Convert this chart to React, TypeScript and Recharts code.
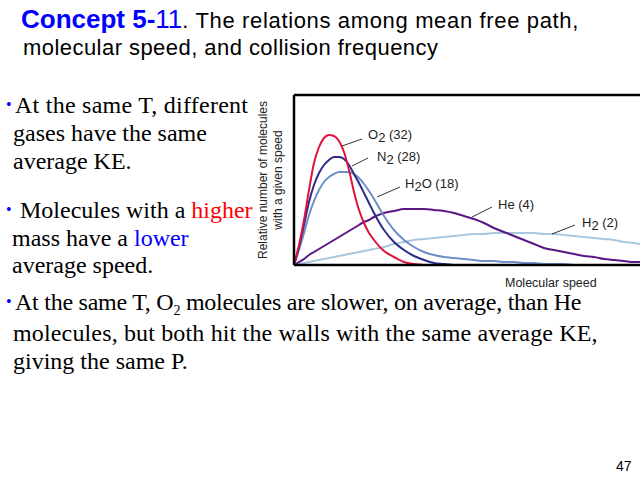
import React from 'react';
import { LineChart, Line, XAxis, YAxis, ReferenceLine, ReferenceDot } from 'recharts';

// speed axis (arbitrary units, left edge of the plot = 0)
const speeds = [0, 5, 10, 15, 20, 25, 30, 35, 40, 45, 50, 55, 60, 65, 70, 75, 80, 90, 100, 110, 120, 130, 140, 150, 160, 170, 180, 190, 200, 210, 220, 230, 240, 250, 260, 270, 280, 290, 300, 310, 320, 330, 340, 346];

// relative number of molecules
const o2 = [0, 20, 45, 75, 102, 118, 127, 130, 129, 124, 113, 95, 73, 55, 42, 32, 25, 14, 8, 3, 1, 0];
const n2 = [0, 18, 40, 63, 80, 92, 100, 105, 108, 108, 106, 100, 91, 82, 72, 62, 52, 35, 23, 15, 9, 5, 2, 1, 0];
const h2o = [0, 15, 32, 50, 64, 75, 83, 88, 91, 93, 93, 93, 91, 87, 81, 74, 66, 49, 35, 25, 18, 13, 10, 8, 7, 6, 5, 4, 4, 3, 3, 2, 2, 1, 1, 1, 0, 0];
const he = [0, 3, 6, 10, 13, 16, 19, 22, 25, 28, 31, 34, 37, 40, 43, 45, 48, 52, 54, 56, 56, 56, 55, 54, 52, 49, 46, 42, 37, 33, 29, 25, 21, 17, 15, 13, 11, 9, 8, 6, 5, 4, 3, 3];
const h2 = [0, 1, 2, 3, 4, 5, 6, 7, 8, 9, 10, 11, 12, 13, 14, 15, 16, 18, 21, 23, 25, 26, 27, 28, 29, 30, 31, 31, 32, 32, 32, 32, 32, 31, 31, 30, 29, 28, 27, 26, 25, 23, 22, 21];

const rows = speeds.map((s, i) => ({
  speed: s,
  o2: o2[i] ?? null,
  n2: n2[i] ?? null,
  h2o: h2o[i] ?? null,
  he: he[i] ?? null,
  h2: h2[i] ?? null,
}));

// curve labels: name, subscript, rest, text anchor, leader line
const labels = [
  { pre: 'O', sub: '2', post: ' (32)', x: 74, y: 126, from: [48, 119], to: [68, 126] },
  { pre: 'N', sub: '2', post: ' (28)', x: 83, y: 104, from: [58, 99], to: [74, 107] },
  { pre: 'H', sub: '2', post: 'O (18)', x: 111, y: 77, from: [83, 68], to: [106, 78] },
  { pre: 'He (4)', sub: '', post: '', x: 204, y: 56, from: [178, 48], to: [198, 58] },
  { pre: 'H', sub: '2', post: ' (2)', x: 288, y: 38, from: [258, 31], to: [281, 40] },
];

const sans = '"Liberation Sans", Arial, Helvetica, sans-serif';
const serif = '"Liberation Serif", "Times New Roman", serif';

function SlideText() {
  const body = { fontFamily: serif, fontSize: 24, fill: '#000' };
  const bullet = (x: number, y: number) => (
    <text x={x} y={y} fontFamily={serif} fontSize={16} fill="#0000ff">•</text>
  );
  return (
    <svg width={640} height={481} style={{ position: 'absolute', left: 0, top: 0 }}>
      <text x={21} y={28} fontFamily={sans} fontSize={26}>
        <tspan fill="#0000ff" fontWeight="bold">Concept 5-</tspan>
        <tspan fill="#0000ff">11</tspan>
        <tspan fill="#000" fontSize={22} letterSpacing={0.65}>. The relations among mean free path,</tspan>
      </text>
      <text x={23} y={55} fontFamily={sans} fontSize={22} letterSpacing={0.45} fill="#000">
        molecular speed, and collision frequency
      </text>

      {bullet(6, 110)}
      <text x={15} y={113} {...body} letterSpacing={0.25}>At the same T, different</text>
      <text x={13} y={141} {...body}>gases have the same</text>
      <text x={13} y={169} {...body}>average KE.</text>

      {bullet(6, 215)}
      <text x={20} y={218} {...body}>
        Molecules with a <tspan fill="#ff0000">higher</tspan>
      </text>
      <text x={12} y={246} {...body}>
        mass have a <tspan fill="#0000ff">lower</tspan>
      </text>
      <text x={12} y={273} {...body}>average speed.</text>

      {bullet(6, 307)}
      <text x={15} y={310} {...body} letterSpacing={-0.25}>
        At the same T, O<tspan fontSize={14} dy={5}>2</tspan>
        <tspan dy={-5}> molecules are slower, on average, than He</tspan>
      </text>
      <text x={13} y={341} {...body} letterSpacing={0.15}>molecules, but both hit the walls with the same average KE,</text>
      <text x={13} y={369} {...body}>giving the same P.</text>

      <text x={616} y={471} fontFamily={sans} fontSize={14} fill="#000">47</text>

      <g transform="translate(271,180) rotate(-90)" fontFamily={sans} fontSize={12} fill="#222" textAnchor="middle">
        <text x={0} y={-4}>Relative number of molecules</text>
        <text x={0} y={11}>with a given speed</text>
      </g>
      <text x={505} y={287} fontFamily={sans} fontSize={12.5} fill="#222">Molecular speed</text>
    </svg>
  );
}

function CurveLabel(props: any) {
  const { cx, cy, item } = props;
  return (
    <text x={cx} y={cy} fontFamily={sans} fontSize={13} fill="#222">
      {item.pre}
      {item.sub && <tspan dy={3}>{item.sub}</tspan>}
      {item.sub && <tspan dy={-3}>{item.post}</tspan>}
    </text>
  );
}

export default function App() {
  return (
    <div style={{ position: 'absolute', left: 0, top: 0, width: 640, height: 481, background: '#fff' }}>
      <SlideText />
      <div style={{ position: 'absolute', left: 0, top: 0 }}>
        <LineChart width={640} height={481} data={rows} margin={{ top: 95, left: 294, right: 0, bottom: 216 }}>
          <XAxis dataKey="speed" type="number" domain={[0, 346]} hide />
          <YAxis type="number" domain={[0, 170]} hide />
          <Line dataKey="h2" type="monotone" stroke="#a9c7dd" strokeWidth={2} dot={false} isAnimationActive={false} />
          <Line dataKey="he" type="monotone" stroke="#5a1784" strokeWidth={2} dot={false} isAnimationActive={false} />
          <Line dataKey="h2o" type="monotone" stroke="#6e8fca" strokeWidth={2} dot={false} isAnimationActive={false} />
          <Line dataKey="n2" type="monotone" stroke="#2a2d88" strokeWidth={2} dot={false} isAnimationActive={false} />
          <Line dataKey="o2" type="monotone" stroke="#e0123e" strokeWidth={2} dot={false} isAnimationActive={false} />
          <ReferenceLine segment={[{ x: 0, y: 170 }, { x: 346, y: 170 }]} stroke="#000" strokeWidth={2.5} />
          <ReferenceLine segment={[{ x: 0, y: 0 }, { x: 0, y: 170 }]} stroke="#000" strokeWidth={2.5} />
          <ReferenceLine segment={[{ x: 0, y: 0 }, { x: 346, y: 0 }]} stroke="#000" strokeWidth={2.5} />
          {labels.map((l) => (
            <ReferenceLine
              key={'l' + l.pre + l.post}
              segment={[{ x: l.from[0], y: l.from[1] }, { x: l.to[0], y: l.to[1] }]}
              stroke="#333"
              strokeWidth={1}
            />
          ))}
          {labels.map((l) => (
            <ReferenceDot
              key={'t' + l.pre + l.post}
              x={l.x}
              y={l.y}
              r={0}
              shape={(p: any) => <CurveLabel {...p} item={l} />}
            />
          ))}
        </LineChart>
      </div>
    </div>
  );
}
